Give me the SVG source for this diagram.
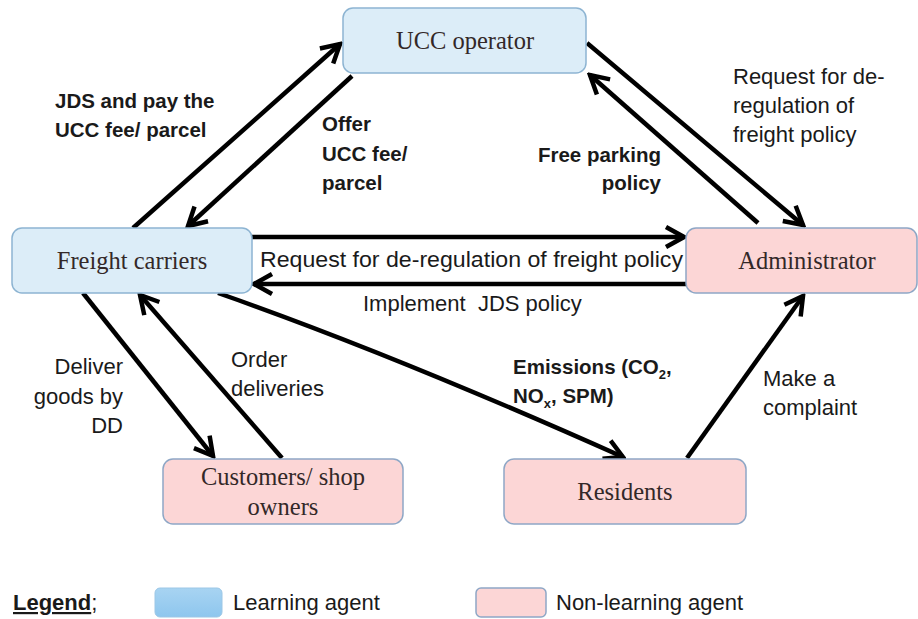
<svg xmlns="http://www.w3.org/2000/svg" width="918" height="619" viewBox="0 0 918 619">
<defs>
<marker id="arr" viewBox="0 0 26 26" refX="23" refY="13" markerWidth="26" markerHeight="26" markerUnits="userSpaceOnUse" orient="auto">
<path d="M5,3 L23,13 L5,23" fill="none" stroke="#000" stroke-width="4.5" stroke-linejoin="miter"/>
</marker>
<linearGradient id="lg" x1="0" y1="0" x2="0" y2="1">
<stop offset="0" stop-color="#a8d4f2"/>
<stop offset="1" stop-color="#8ec6ee"/>
</linearGradient>
</defs>
<style>
.learn{fill:#dcedf8;stroke:#8db4d2;stroke-width:1.5}
.non{fill:#fcd6d6;stroke:#8ea7c6;stroke-width:1.5}
.nt{font-family:"Liberation Serif","Times New Roman",serif;font-size:24.5px;fill:#332828;text-anchor:middle}
.lb{font-family:"Liberation Sans",Arial,sans-serif;font-size:20.5px;fill:#1a1a1a}
.lr{font-family:"Liberation Sans",Arial,sans-serif;font-size:22px;fill:#1a1a1a}
.b{font-weight:bold}
.c{fill:none;stroke:#000;stroke-width:4.5;marker-end:url(#arr)}
</style>
<rect width="918" height="619" fill="#fff"/>

<g id="connectors">
<line class="c" x1="133" y1="228" x2="340" y2="44"/>
<line class="c" x1="352" y1="76" x2="188" y2="226"/>
<line class="c" x1="587" y1="43" x2="803" y2="225"/>
<line class="c" x1="758" y1="223" x2="590" y2="75"/>
<line class="c" x1="252" y1="237" x2="684" y2="237"/>
<line class="c" x1="686" y1="284" x2="254" y2="284"/>
<line class="c" x1="83" y1="293" x2="213" y2="456"/>
<line class="c" x1="282" y1="458" x2="140" y2="295"/>
<path class="c" d="M218,293 Q390,353 623,457"/>
<line class="c" x1="687" y1="458" x2="803" y2="296"/>
</g>

<g id="ucc">
<rect class="learn" x="343" y="8" width="243" height="65" rx="10"/>
<text class="nt" x="465" y="49">UCC operator</text>
</g>
<g id="freight">
<rect class="learn" x="12" y="228" width="240" height="65" rx="10"/>
<text class="nt" x="132" y="269">Freight carriers</text>
</g>
<g id="admin">
<rect class="non" x="686" y="228" width="231" height="65" rx="10"/>
<text class="nt" x="807" y="269">Administrator</text>
</g>
<g id="customers">
<rect class="non" x="163" y="459" width="240" height="65" rx="10"/>
<text class="nt" x="283" y="485">Customers/ shop</text>
<text class="nt" x="283" y="515">owners</text>
</g>
<g id="residents">
<rect class="non" x="504" y="459" width="242" height="65" rx="10"/>
<text class="nt" x="625" y="500">Residents</text>
</g>

<g id="labels">
<text class="lb b" x="55" y="108">JDS and pay the</text>
<text class="lb b" x="55" y="137">UCC fee/ parcel</text>
<text class="lb b" x="322" y="131">Offer</text>
<text class="lb b" x="322" y="161">UCC fee/</text>
<text class="lb b" x="322" y="190">parcel</text>
<text class="lb b" x="661" y="162" text-anchor="end">Free parking</text>
<text class="lb b" x="661" y="190" text-anchor="end">policy</text>
<text class="lr" x="733" y="84">Request for de-</text>
<text class="lr" x="733" y="113">regulation of</text>
<text class="lr" x="733" y="142">freight policy</text>
<text class="lr" x="260" y="267" textLength="423" lengthAdjust="spacingAndGlyphs">Request for de-regulation of freight policy</text>
<text class="lr" x="363" y="311" xml:space="preserve">Implement  JDS policy</text>
<text class="lr" x="123" y="374" text-anchor="end">Deliver</text>
<text class="lr" x="123" y="404" text-anchor="end">goods by</text>
<text class="lr" x="123" y="433" text-anchor="end">DD</text>
<text class="lr" x="231" y="367">Order</text>
<text class="lr" x="231" y="396">deliveries</text>
<text class="lb b" x="513" y="374">Emissions (CO<tspan dy="5" font-size="13">2</tspan><tspan dy="-5">,</tspan></text>
<text class="lb b" x="513" y="403">NO<tspan dy="5" font-size="13">x</tspan><tspan dy="-5">, SPM)</tspan></text>
<text class="lr" x="763" y="386">Make a</text>
<text class="lr" x="763" y="415">complaint</text>
</g>

<g id="legend">
<text class="lr" x="13" y="610"><tspan font-weight="bold" text-decoration="underline">Legend</tspan>;</text>
<rect x="155" y="588" width="67" height="29" rx="5" fill="url(#lg)" stroke="#9cc7e6" stroke-width="1"/>
<text class="lr" x="233" y="610">Learning agent</text>
<rect x="476" y="588" width="70" height="29" rx="5" fill="#fcd6d6" stroke="#8ea7c6" stroke-width="1.5"/>
<text class="lr" x="556" y="610">Non-learning agent</text>
</g>
</svg>
